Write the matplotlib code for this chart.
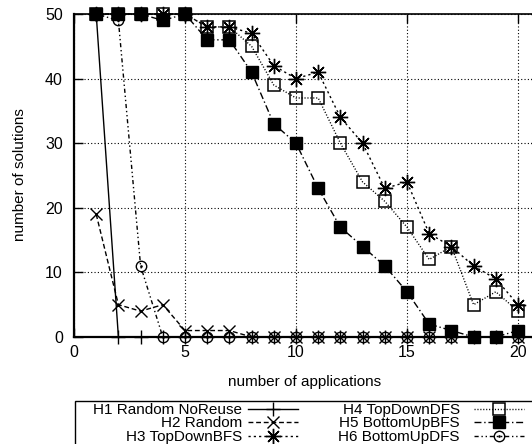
import matplotlib
matplotlib.use("Agg")
import matplotlib.pyplot as plt
from matplotlib.lines import Line2D
from matplotlib.patches import Rectangle
from matplotlib.path import Path

plt.rcParams['font.family'] = ['Liberation Sans', 'DejaVu Sans']

# ---- data -------------------------------------------------------------
applications = list(range(1, 21))
h1_random_noreuse = [50, 0, 0, 0, 0, 0, 0, 0, 0, 0, 0, 0, 0, 0, 0, 0, 0, 0, 0, 0]
h2_random = [19, 5, 4, 5, 1, 1, 1, 0, 0, 0, 0, 0, 0, 0, 0, 0, 0, 0, 0, 0]
h3_topdown_bfs = [50, 50, 50, 50, 50, 48, 48, 47, 42, 40, 41, 34, 30, 23, 24, 16, 14, 11, 9, 5]
h4_topdown_dfs = [50, 50, 50, 50, 50, 48, 48, 45, 39, 37, 37, 30, 24, 21, 17, 12, 14, 5, 7, 4]
h5_bottomup_bfs = [50, 50, 50, 49, 50, 46, 46, 41, 33, 30, 23, 17, 14, 11, 7, 2, 1, 0, 0, 1]
h6_bottomup_dfs = [50, 49, 11, 0, 0, 0, 0, 0, 0, 0, 0, 0, 0, 0, 0, 0, 0, 0, 0, 0]

labels = ["H1 Random NoReuse", "H2 Random", "H3 TopDownBFS",
          "H4 TopDownDFS", "H5 BottomUpBFS", "H6 BottomUpDFS"]
xticks = [0, 5, 10, 15, 20]
yticks = [0, 10, 20, 30, 40, 50]

# ---- styles -----------------------------------------------------------
dot_circle = Path.make_compound_path(Path.unit_circle(), Path.circle((0, 0), 0.12))

styles = [
    dict(linestyle='-', marker='+', markersize=10, markeredgewidth=1.0, mfc='k'),
    dict(linestyle=(0, (3.5, 2.0)), marker='x', markersize=9, markeredgewidth=1.0, mfc='k'),
    dict(linestyle=(0, (1.6, 2.2)), marker=(8, 2, 0), markersize=11, markeredgewidth=1.0, mfc='k'),
    dict(linestyle=(0, (0.8, 1.3)), marker='s', markersize=8, markeredgewidth=1.1, mfc='none'),
    dict(linestyle=(0, (5.0, 2.0, 1.0, 2.0)), marker='s', markersize=8, markeredgewidth=1.0, mfc='k'),
    dict(linestyle=(0, (3.0, 2.0, 1.0, 2.0, 1.0, 2.0)), marker=dot_circle, markersize=7.5,
         markeredgewidth=1.0, mfc='none'),
]
series = [h1_random_noreuse, h2_random, h3_topdown_bfs,
          h4_topdown_dfs, h5_bottomup_bfs, h6_bottomup_dfs]

W, H = 532, 444
fig = plt.figure(figsize=(W / 100, H / 100), dpi=100)
ax = fig.add_axes([74 / W, 107 / H, 21 * 22.2 / W, 323 / H])

for vals, st in zip(series, styles):
    ax.plot(applications, vals, color='k', linewidth=1.0, mec='k', clip_on=False, **st)

ax.set_xlim(0, 21)
ax.set_ylim(0, 50)
ax.set_xticks(xticks)
ax.set_yticks(yticks)
ax.grid(True, color='k', linestyle=(0, (1, 2)), linewidth=0.8)
ax.set_axisbelow(True)
ax.tick_params(direction='in', top=True, right=True, length=6.5, width=1.0,
               labelsize=11.5, colors='k')
ax.tick_params(axis='x', pad=6)
ax.tick_params(axis='y', pad=8)
ax.spines['left'].set_linewidth(1.6)
ax.spines['bottom'].set_linewidth(1.6)
ax.spines['top'].set_linewidth(1.2)
ax.spines['right'].set_linewidth(1.2)

fig.text(305 / W, 1 - 382 / H, "number of applications", ha='center', va='center', fontsize=11)
fig.text(20 / W, 1 - 175 / H, "number of solutions", ha='center', va='center',
         rotation=90, fontsize=11)

# ---- legend box ---------------------------------------------------------
fig.add_artist(Rectangle((75 / W, -0.1), 1.0, (444 - 401) / H + 0.1,
                         transform=fig.transFigure, fill=False, edgecolor='k', linewidth=1.0))

cols = [(242, 248, 298), (460, 474, 524)]
baselines = [413.5, 427, 440.5]
for i, (lab, st) in enumerate(zip(labels, styles)):
    xr, h0, h1 = cols[i // 3]
    yb = 1 - baselines[i % 3] / H
    y = 1 - (baselines[i % 3] - 5.0) / H
    fig.text(xr / W, yb, lab, ha='right', va='baseline', fontsize=11)
    fig.add_artist(Line2D([h0 / W, h1 / W], [y, y], transform=fig.transFigure,
                          color='k', linewidth=1.0, linestyle=st['linestyle']))
    mk = {k: v for k, v in st.items() if k != 'linestyle'}
    fig.add_artist(Line2D([(h0 + h1) / 2 / W], [y], transform=fig.transFigure,
                          color='k', mec='k', linestyle='none', **mk))

fig.savefig("out.png", dpi=100)
